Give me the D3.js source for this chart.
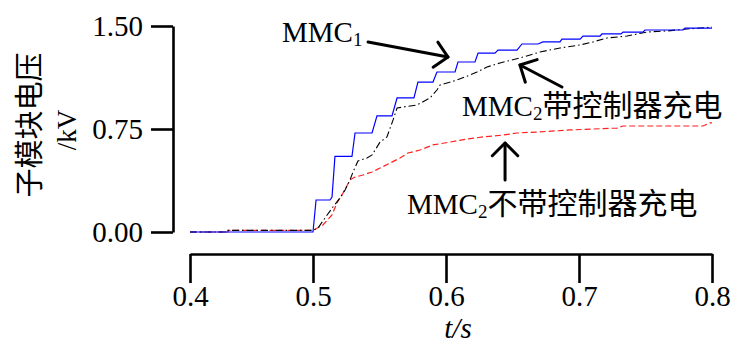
<!DOCTYPE html>
<html>
<head>
<meta charset="utf-8">
<script src="https://cdn.jsdelivr.net/npm/d3@7"></script>
<style>
  html, body { margin: 0; padding: 0; background: #fff; }
  svg { display: block; }
</style>
</head>
<body>
<svg id="chart" width="733" height="344"></svg>
<script>
// Axis ticks
const xTicks = [0.4, 0.5, 0.6, 0.7, 0.8];
const yTicks = [0, 0.75, 1.5];

// MMC1 sub-module voltage (kV) vs time (s)
const mmc1Time = [0.4, 0.5, 0.5023, 0.5128, 0.5143, 0.5165, 0.5293, 0.5316, 0.5444, 0.5481,
  0.5594, 0.5632, 0.5759, 0.5789, 0.5902, 0.5932, 0.6068, 0.6090, 0.6218, 0.6241,
  0.6368, 0.6391, 0.6534, 0.6571, 0.6692, 0.6729, 0.6857, 0.6872, 0.7008, 0.7030,
  0.7158, 0.7173, 0.7316, 0.7331, 0.7481, 0.7496, 0.7782, 0.7797, 0.8];
const mmc1Volt = [0, 0, 0.233, 0.233, 0.255, 0.55, 0.55, 0.721, 0.721, 0.845,
  0.845, 0.976, 0.976, 1.092, 1.092, 1.165, 1.165, 1.238, 1.238, 1.303,
  1.303, 1.325, 1.325, 1.369, 1.369, 1.384, 1.384, 1.405, 1.405, 1.427,
  1.427, 1.442, 1.442, 1.456, 1.456, 1.471, 1.471, 1.485, 1.485];

// MMC2 charged with the controller
const mmc2CtrlTime = [0.4, 0.4309, 0.4310, 0.5, 0.5038, 0.5090, 0.5150, 0.5203, 0.5241, 0.5278,
  0.5301, 0.5338, 0.5406, 0.5444, 0.5504, 0.5556, 0.5602, 0.5632, 0.5677, 0.5782,
  0.5880, 0.5932, 0.5955, 0.6083, 0.6180, 0.6233, 0.6308, 0.6406, 0.6556, 0.6707,
  0.6857, 0.7008, 0.7105, 0.7211, 0.7361, 0.7511, 0.7662, 0.7812, 0.8];
const mmc2CtrlVolt = [0, 0, 0.012, 0.012, 0.029, 0.102, 0.182, 0.248, 0.306, 0.379,
  0.437, 0.517, 0.539, 0.561, 0.655, 0.692, 0.816, 0.903, 0.910, 0.925,
  0.976, 1.034, 1.070, 1.107, 1.143, 1.165, 1.201, 1.231, 1.267, 1.311,
  1.340, 1.362, 1.384, 1.413, 1.427, 1.456, 1.464, 1.478, 1.492];

// MMC2 charged without the controller
const mmc2FreeTime = [0.4, 0.4309, 0.4310, 0.5, 0.5075, 0.5143, 0.5180, 0.5226, 0.5278, 0.5316,
  0.5376, 0.5444, 0.5504, 0.5579, 0.5654, 0.5714, 0.5805, 0.5902, 0.6030, 0.6158,
  0.6278, 0.6429, 0.6534, 0.6684, 0.6932, 0.7286, 0.7331, 0.7932, 0.7985, 0.8];
const mmc2FreeVolt = [0, 0, 0.012, 0.012, 0.051, 0.124, 0.211, 0.284, 0.379, 0.400,
  0.415, 0.437, 0.466, 0.502, 0.539, 0.575, 0.597, 0.634, 0.655, 0.677,
  0.692, 0.706, 0.721, 0.728, 0.743, 0.757, 0.772, 0.772, 0.794, 0.794];

const LATIN = "'Liberation Serif', 'Times New Roman', serif";
const CJK = "'Noto Sans CJK SC', sans-serif";

const svg = d3.select("#chart");
svg.append("rect").attr("width", 733).attr("height", 344).attr("fill", "#fff");

const x = d3.scaleLinear().domain([0.4, 0.5, 0.8]).range([190, 313, 712]);
const y = d3.scaleLinear().domain([0, 1.5]).range([232, 26]);

// Axes (detached: y axis on the left, x axis below the plot)
const gx = svg.append("g").attr("transform", "translate(0,254)")
  .call(d3.axisBottom(x).tickValues(xTicks).tickSize(29).tickSizeOuter(0)
    .tickPadding(2).tickFormat(d3.format(".1f")));
const gy = svg.append("g").attr("transform", "translate(173,0)")
  .call(d3.axisLeft(y).tickValues(yTicks).tickSize(22).tickSizeOuter(0)
    .tickPadding(8).tickFormat(d3.format(".2f")));
[gx, gy].forEach(g => {
  g.selectAll(".domain, .tick line").attr("stroke", "#000").attr("stroke-width", 2.6);
  g.selectAll(".tick text").attr("fill", "#000")
    .style("font-family", LATIN).style("font-size", "29px");
});

// Curves
const line = d3.line().x(d => x(d[0])).y(d => y(d[1]));
const zip = (a, b) => a.map((t, i) => [t, b[i]]);

svg.append("path").datum(zip(mmc2FreeTime, mmc2FreeVolt))
  .attr("d", line).attr("fill", "none").attr("stroke", "#ff2020")
  .attr("stroke-width", 1.2).attr("stroke-dasharray", "6,3");
svg.append("path").datum(zip(mmc2CtrlTime, mmc2CtrlVolt))
  .attr("d", line).attr("fill", "none").attr("stroke", "#000")
  .attr("stroke-width", 1.1).attr("stroke-dasharray", "7,3,1.5,3");
svg.append("path").datum(zip(mmc1Time, mmc1Volt))
  .attr("d", line).attr("fill", "none").attr("stroke", "#0000ff")
  .attr("stroke-width", 1.2);

// Arrows pointing at the curves (tail -> tip, in data units)
function arrow(t0, v0, t1, v1) {
  const x0 = x(t0), y0 = y(v0), x1 = x(t1), y1 = y(v1);
  const back = Math.atan2(y0 - y1, x0 - x1);
  const len = 18, spread = Math.PI / 4;
  const b1 = [x1 + len * Math.cos(back + spread), y1 + len * Math.sin(back + spread)];
  const b2 = [x1 + len * Math.cos(back - spread), y1 + len * Math.sin(back - spread)];
  const g = svg.append("g").attr("fill", "none").attr("stroke", "#000")
    .attr("stroke-width", 3).attr("stroke-linecap", "round").attr("stroke-linejoin", "round");
  g.append("line").attr("x1", x0).attr("y1", y0).attr("x2", x1).attr("y2", y1);
  g.append("path").attr("d", `M${b1[0]},${b1[1]}L${x1},${y1}L${b2[0]},${b2[1]}`);
}
arrow(0.5414, 1.384, 0.6015, 1.274);
arrow(0.6872, 1.056, 0.6556, 1.216);
arrow(0.6444, 0.379, 0.6444, 0.648);

// Curve labels
function label(px, py, sub, cjk) {
  const t = svg.append("text").attr("x", px).attr("y", py).attr("fill", "#000");
  t.append("tspan").style("font-family", LATIN).style("font-size", "29px").text("MMC");
  t.append("tspan").style("font-family", LATIN).style("font-size", "19px")
    .attr("dy", 4).text(sub);
  if (cjk) {
    t.append("tspan").style("font-family", CJK).style("font-size", "30px")
      .attr("dy", -4).text(cjk);
  }
}
label(282, 42, "1", null);
label(462, 116, "2", "带控制器充电");
label(407, 214, "2", "不带控制器充电");

// Axis titles
svg.append("text").attr("transform", "translate(27,125) rotate(-90)")
  .attr("text-anchor", "middle").attr("dominant-baseline", "central")
  .style("font-family", CJK).style("font-size", "29px").attr("fill", "#000")
  .text("子模块电压");
svg.append("text").attr("transform", "translate(67,130) rotate(-90)")
  .attr("text-anchor", "middle").attr("dominant-baseline", "central")
  .style("font-family", LATIN).style("font-size", "27px").attr("fill", "#000")
  .text("/kV");
svg.append("text").attr("x", 458).attr("y", 338).attr("text-anchor", "middle")
  .style("font-family", LATIN).style("font-size", "29px").style("font-style", "italic")
  .attr("fill", "#000").text("t/s");
</script>
</body>
</html>
